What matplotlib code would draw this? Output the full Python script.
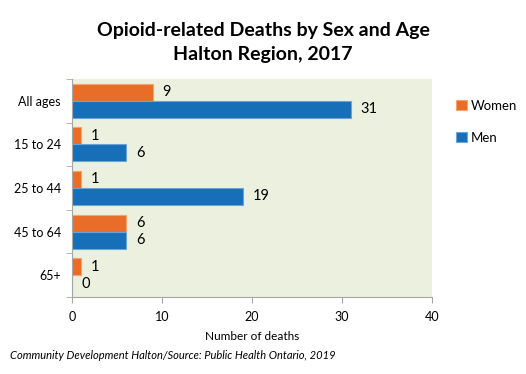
import numpy as np
import matplotlib.pyplot as plt

ages = ['All ages', '15 to 24', '25 to 44', '45 to 64', '65+']
women = [9, 1, 1, 6, 1]
men = [31, 6, 19, 6, 0]

plt.rcParams['font.family'] = ['Lato', 'DejaVu Sans']

fig = plt.figure(figsize=(5.26, 3.74), dpi=100)
ax = fig.add_axes([0.137, 0.206, 0.684, 0.583])
ax.set_facecolor('#EBF1DE')

y = np.arange(len(ages))
h = 0.39
bw = ax.barh(y - h / 2, women, height=h, color='#E86D29', edgecolor='#F4A46E', linewidth=0.8, label='Women')
bm = ax.barh(y + h / 2, men, height=h, color='#176FB7', edgecolor='#6EA3D6', linewidth=0.8, label='Men')

for bars, vals in [(bw, women), (bm, men)]:
    for b, v in zip(bars, vals):
        ax.annotate(str(v), (v, b.get_y() + b.get_height() / 2), xytext=(7, 0),
                    textcoords='offset points', va='center', ha='left', fontsize=10.5)

ax.set_xlim(0, 40)
ax.set_ylim(len(ages) - 0.5, -0.5)
ax.set_xticks([0, 10, 20, 30, 40])
ax.set_yticks(y)
ax.set_yticklabels(ages)
ax.set_yticks(np.arange(len(ages) + 1) - 0.5, minor=True)
ax.tick_params(axis='y', which='major', length=0, labelsize=9, pad=8)
ax.tick_params(axis='y', which='minor', length=4, color='#A6A6A6')
ax.tick_params(axis='x', length=4, color='#A6A6A6', labelsize=9, pad=6)
for s in ['top', 'right']:
    ax.spines[s].set_visible(False)
for s in ['left', 'bottom']:
    ax.spines[s].set_color('#A6A6A6')

ax.set_xlabel('Number of deaths', fontsize=8.5, labelpad=6)

fig.suptitle('Opioid-related Deaths by Sex and Age\nHalton Region, 2017',
             x=0.5, y=0.94, fontsize=14, fontweight='bold', linespacing=1.45)

fig.legend(handles=[bw, bm], loc='upper left', bbox_to_anchor=(0.845, 0.765),
           frameon=False, fontsize=9.5, handlelength=0.8, handleheight=0.8,
           handletextpad=0.3, labelspacing=1.5)

fig.text(0.019, 0.04, 'Community Development Halton/Source: Public Health Ontario, 2019',
         fontsize=8, style='italic')

fig.savefig('out.png', dpi=100)
